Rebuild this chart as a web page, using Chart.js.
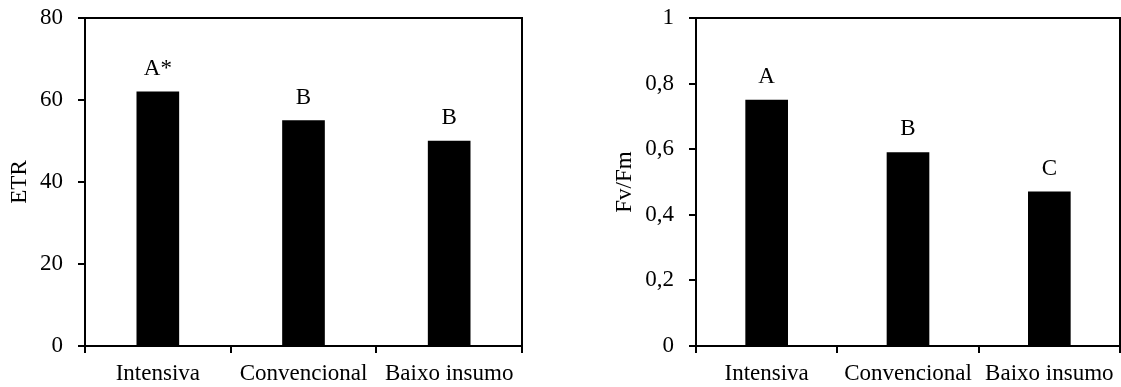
<!DOCTYPE html>
<html>
<head>
<meta charset="utf-8">
<script src="https://cdn.jsdelivr.net/npm/chart.js@4/dist/chart.umd.min.js"></script>
<style>
  html, body { margin: 0; padding: 0; background: #fff; }
  #wrap { position: relative; width: 1121px; height: 387px; }
  .box { position: absolute; top: 0; height: 387px; }
  #boxEtr { left: 0; width: 560px; }
  #boxFv { left: 560px; width: 561px; }
</style>
</head>
<body>
<div id="wrap">
  <div class="box" id="boxEtr"><canvas id="chartEtr"></canvas></div>
  <div class="box" id="boxFv"><canvas id="chartFv"></canvas></div>
</div>
<script>
// Dados dos sistemas de manejo
const categorias = ['Intensiva', 'Convencional', 'Baixo insumo'];

const valoresEtr = [62, 55, 50];
const letrasEtr = ['A*', 'B', 'B'];
const ticksEtr = ['0', '20', '40', '60', '80'];

const valoresFv = [0.75, 0.59, 0.47];
const letrasFv = ['A', 'B', 'C'];
const ticksFv = ['0', '0,2', '0,4', '0,6', '0,8', '1'];

const FONTE = "'Liberation Serif', 'Times New Roman', serif";
const TAM = 23;
Chart.defaults.font.family = FONTE;
Chart.defaults.color = '#000';

// Moldura em volta da area do grafico
const moldura = {
    id: 'moldura',
    afterDraw(chart) {
        const a = chart.chartArea;
        const ctx = chart.ctx;
        ctx.save();
        ctx.strokeStyle = '#000';
        ctx.lineWidth = 2;
        ctx.strokeRect(a.left, a.top, a.right - a.left, a.bottom - a.top);
        ctx.restore();
    }
};

// Letras de significancia acima de cada barra
const letras = {
    id: 'letras',
    afterDatasetsDraw(chart, args, opts) {
        const ctx = chart.ctx;
        const meta = chart.getDatasetMeta(0);
        ctx.save();
        ctx.font = TAM + 'px ' + FONTE;
        ctx.fillStyle = '#000';
        ctx.textAlign = 'center';
        ctx.textBaseline = 'alphabetic';
        meta.data.forEach((bar, i) => {
            ctx.fillText(opts.textos[i], bar.x, bar.y - 17);
        });
        ctx.restore();
    }
};

function criarGrafico(id, valores, textos, tickLabels, max, passo, titulo, larguraY, padDir, padTitulo) {
    const ctx = document.getElementById(id).getContext('2d');
    return new Chart(ctx, {
        type: 'bar',
        data: {
            labels: categorias,
            datasets: [{
                data: valores,
                backgroundColor: '#000',
                borderWidth: 0,
                barThickness: 42
            }]
        },
        plugins: [moldura, letras],
        options: {
            responsive: true,
            maintainAspectRatio: false,
            animation: false,
            layout: { padding: { top: 18, right: padDir, bottom: 0, left: 0 } },
            plugins: {
                legend: { display: false },
                tooltip: { enabled: false },
                letras: { textos: textos }
            },
            scales: {
                x: {
                    grid: { drawOnChartArea: false, color: '#000', lineWidth: 2, tickLength: 7 },
                    border: { color: '#000', width: 2 },
                    ticks: { font: { size: TAM }, padding: 7, maxRotation: 0, autoSkip: false },
                    afterFit: (s) => {
                        s.height = 41;
                        s.paddingLeft = 0;
                        s.paddingRight = 0;
                    }
                },
                y: {
                    min: 0,
                    max: max,
                    grid: { drawOnChartArea: false, color: '#000', lineWidth: 2, tickLength: 7 },
                    border: { color: '#000', width: 2 },
                    ticks: {
                        stepSize: passo,
                        font: { size: TAM },
                        padding: 15,
                        callback: (v, i) => tickLabels[i]
                    },
                    title: {
                        display: true,
                        text: titulo,
                        font: { size: TAM },
                        padding: { top: padTitulo, bottom: 0 }
                    },
                    afterFit: (s) => {
                        s.width = larguraY;
                        s.paddingTop = 0;
                        s.paddingBottom = 0;
                    }
                }
            }
        }
    });
}

criarGrafico('chartEtr', valoresEtr, letrasEtr, ticksEtr, 80, 20, 'ETR', 85, 38, 6);
criarGrafico('chartFv', valoresFv, letrasFv, ticksFv, 1, 0.2, 'Fv/Fm', 136, 1, 51);
</script>
</body>
</html>
